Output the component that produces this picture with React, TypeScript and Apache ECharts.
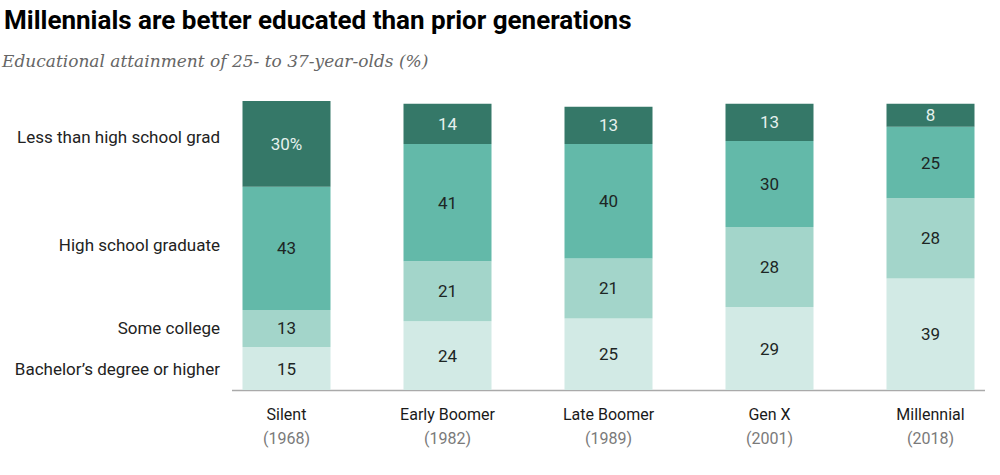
import React, { useEffect, useRef } from "react";
import * as echarts from "echarts";

const generations = ["Silent", "Early Boomer", "Late Boomer", "Gen X", "Millennial"];
const years = ["1968", "1982", "1989", "2001", "2018"];
const lessThanHS = [30, 14, 13, 13, 8];
const hsGrad = [43, 41, 40, 30, 25];
const someCollege = [13, 21, 21, 28, 28];
const bachelors = [15, 24, 25, 29, 39];
const levelNames = [
  "Bachelor\u2019s degree or higher",
  "Some college",
  "High school graduate",
  "Less than high school grad",
];
const levelColors = ["#d2eae5", "#a3d5ca", "#63b9a9", "#357868"];

export default function App() {
  const ref = useRef<HTMLDivElement>(null);
  useEffect(() => {
    if (!ref.current) return;
    const chart = echarts.init(ref.current, undefined, { renderer: "svg" });
    const font = "Roboto, 'Noto Sans', sans-serif";
    const seriesData = [bachelors, someCollege, hsGrad, lessThanHS];
    const series = seriesData.map((vals, i) => ({
      name: levelNames[i],
      type: "bar",
      stack: "total",
      barWidth: 88,
      itemStyle: { color: levelColors[i] },
      label: {
        show: true,
        position: "inside",
        fontFamily: font,
        fontSize: 17,
        color: i === 3 ? "#e6f1ee" : "#1d2624",
        formatter: (p: any) => (i === 3 && p.dataIndex === 0 ? p.value + "%" : String(p.value)),
      },
      data: vals,
    }));
    const labelYs = [369, 328, 245, 137];
    chart.setOption({
      animation: false,
      grid: { left: 206, top: 101, width: 805, height: 289 },
      xAxis: {
        type: "category",
        data: generations,
        axisLine: { show: false },
        axisTick: { show: false },
        axisLabel: {
          margin: 12,
          interval: 0,
          formatter: (v: string, idx: number) => `{n|${v}}\n{y|(${years[idx]})}`,
          rich: {
            n: { fontFamily: font, fontSize: 16, color: "#1a1a1a", lineHeight: 24 },
            y: { fontFamily: font, fontSize: 16, color: "#7a7a7a", lineHeight: 24 },
          },
        },
      },
      yAxis: { type: "value", min: 0, max: 101, show: false },
      series,
      graphic: [
        {
          type: "text",
          left: 4,
          top: 7,
          style: {
            text: "Millennials are better educated than prior generations",
            font: `bold 26px ${font}`,
            fill: "#000",
          },
        },
        {
          type: "text",
          left: 2,
          top: 52,
          style: {
            text: "Educational attainment of 25- to 37-year-olds (%)",
            font: "italic 17px 'DejaVu Serif', serif",
            fill: "#666",
          },
        },
        {
          type: "line",
          shape: { x1: 232, y1: 390.5, x2: 985, y2: 390.5 },
          style: { stroke: "#aaaaaa", lineWidth: 1.5 },
        },
        ...levelNames.map((n, i) => ({
          type: "text",
          x: 220,
          y: labelYs[i],
          style: {
            text: n,
            font: `17px ${font}`,
            fill: "#222",
            textAlign: "right",
            textVerticalAlign: "middle",
          },
        })),
      ],
    });
    return () => chart.dispose();
  }, []);
  return (
    <div
      style={{
        position: "absolute",
        left: 0,
        top: 0,
        width: 1000,
        height: 475,
        overflow: "hidden",
        background: "#fff",
      }}
    >
      <div ref={ref} style={{ width: 1012, height: 475 }} />
    </div>
  );
}
